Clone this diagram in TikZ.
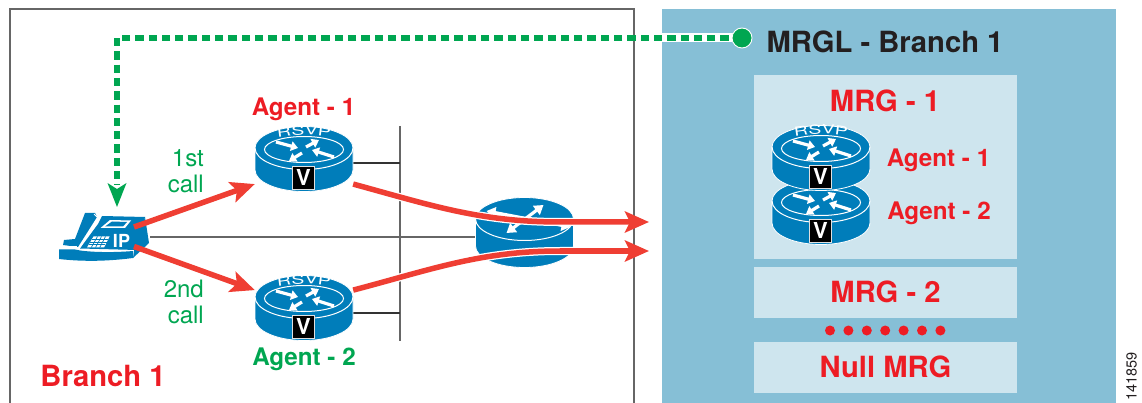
\documentclass[tikz,border=0pt]{standalone}
\usepackage{fontspec}
\setmainfont{TeX Gyre Heros}
\newfontfamily\rsvpfont[FakeStretch=1.55]{TeX Gyre Heros}
\usetikzlibrary{arrows.meta,calc,decorations.text}
\definecolor{ciscoblue}{HTML}{007DBA}
\definecolor{redline}{HTML}{EF3E33}
\definecolor{redtext}{HTML}{ED1C24}
\definecolor{greenc}{HTML}{00A651}
\definecolor{panelc}{HTML}{86BFD6}
\definecolor{innerc}{HTML}{CEE5EE}
\definecolor{framec}{HTML}{666666}
\definecolor{darktext}{HTML}{231F20}
\tikzset{
  lbl/.style={inner sep=0pt,font=\fontsize{24.2}{26}\selectfont\bfseries,text=redtext},
  biglbl/.style={inner sep=0pt,font=\fontsize{29.2}{32}\selectfont\bfseries,text=redtext},
  calllbl/.style={inner sep=0pt,align=right,anchor=east,font=\fontsize{24}{26}\selectfont,text=greenc},
  iconbox/.style={inner sep=0pt,minimum width=98pt,minimum height=66pt},
  wire/.style={draw=framec,line width=1.1pt},
  redarrow/.style={draw=redline,line width=5.5pt,-{Stealth[length=24pt,width=21pt,inset=5pt]}},
  casing/.style={draw=white,line width=8pt},
  whitearrow/.style={draw=white,line width=3.2pt,-{Triangle[length=7pt,width=9.5pt]}},
  whitedouble/.style={draw=white,line width=3.2pt,{Triangle[length=9pt,width=11pt]}-{Triangle[length=9pt,width=11pt]}},
  greendash/.style={draw=greenc,line width=5.5pt,dash pattern=on 8.3pt off 5pt},
  mrgbox/.style={fill=innerc,inner sep=0pt},
}
% body of a cylinder icon, centre of the top ellipse at (#1,#2)
\newcommand{\cylbody}[3]{%
  \begin{scope}[shift={(#1,#2)}]
    \path[fill=ciscoblue,draw=white,line width=0.8pt]
      (-49,0) -- (-49,#3) arc[start angle=180,end angle=360,x radius=49pt,y radius=21.5pt]
      -- (49,0) arc[start angle=0,end angle=180,x radius=49pt,y radius=21.5pt] -- cycle;
    \draw[white,line width=1pt] (-49,0) arc[start angle=180,end angle=360,x radius=49pt,y radius=21.5pt];
  \end{scope}}
% voice router icon, without its lettering
\newcommand{\rsvprouter}[2]{%
  \cylbody{#1}{#2}{22}
  \begin{scope}[shift={(#1,#2)}]
    \draw[white,line width=1pt] (0,1.5) ellipse[x radius=39.5pt,y radius=13pt];
    \draw[whitearrow] (-28,-6) -- (-6,0);
    \draw[whitearrow] (2,-1) -- (15,-8);
    \draw[whitearrow] (30,9) -- (8,2);
    \draw[whitearrow] (-2,5) -- (-15,13);
    \node[draw=white!75!gray,line width=0.8pt,fill=black,text=white,inner sep=0pt,
      minimum width=22pt,minimum height=23pt,
      font=\fontsize{22}{22}\selectfont\bfseries] at (-0.5,29.5) {V};
  \end{scope}}
% the RSVP lettering on the top of an icon
\newcommand{\rsvpword}[2]{%
  \begin{scope}[shift={(#1,#2)}]
    \path[decorate,decoration={text along path,text align=center,
      text={|\rsvpfont\fontsize{12.5}{13}\selectfont\color{white}|RSVP}}]
      (-34,-9) .. controls (-14,-14.5) and (14,-14.5) .. (34,-9);
  \end{scope}}
\begin{document}
\begin{tikzpicture}[x=1pt,y=-1pt]
\useasboundingbox (0,0) rectangle (1142,403);
% frame and panel
\draw[framec,line width=1.2pt] (10,403) -- (10,9) -- (634,9) -- (634,403);
\fill[panelc] (662,9) rectangle (1116,403);
\node[mrgbox,minimum width=263pt,minimum height=184pt] (mrgone) at (885.5,167) {};
\node[mrgbox,minimum width=263pt,minimum height=51pt] (mrgtwo) at (885.5,292.5) {};
\node[mrgbox,minimum width=263pt,minimum height=51pt] (mrgnull) at (885.5,367.5) {};
\node[biglbl] (tone) at (885,101) {MRG - 1};
\node[biglbl] (ttwo) at (885.5,292) {MRG - 2};
\node[biglbl] (tnull) at (885.5,367) {Null MRG};
\node[inner sep=0pt,font=\fontsize{29.2}{32}\selectfont\bfseries,text=darktext] (title) at (885,42) {MRGL - Branch 1};
\foreach \i in {0,...,6} \fill[redtext] ({830+18.4*\i},330.5) circle[radius=5pt];
% named icon places
\node[iconbox] (rone) at (304,159) {};
\node[iconbox] (rtwo) at (304,308) {};
\node[inner sep=0pt,minimum width=98pt,minimum height=65pt] (rmid) at (524.5,232.5) {};
\node[inner sep=0pt,minimum width=91pt,minimum height=50pt] (phone) at (104.5,237) {};
\coordinate (busa) at (400,126);
\coordinate (busb) at (400,341);
\coordinate (phonea) at (134,227);
\coordinate (phoneb) at (134,246.5);
\coordinate (outa) at (649,222);
\coordinate (outb) at (649,251);
\node[inner sep=0pt,minimum size=0pt] (dot) at (742,38) {};
\coordinate (elbow) at (117,38);
\coordinate (greentip) at (117,207);
% wires
\draw[wire] (phone.east) -- (phone.east -| rmid.west);
\draw[wire] (busa) -- (busb);
\draw[wire,draw=black!80] (rone.east |- 0,163) -- (400,163);
\draw[wire,draw=black!80] (rtwo.east |- 0,313) -- (400,313);
% routers
\rsvprouter{304}{148}
\rsvpword{304}{148}
\rsvprouter{304}{297}
\rsvpword{304}{297}
% plain router
\cylbody{524.5}{219}{27}
\begin{scope}[shift={(524.5,219)}]
  \draw[whitedouble] (-18,14) -- (19,-14);
  \draw[whitedouble] (-38,-8) -- (46,8);
\end{scope}
% stacked routers
\rsvprouter{821}{201}
\rsvprouter{821}{147}
\rsvpword{821}{147}
% phone
\begin{scope}
  \fill[ciscoblue] (59,249.5) -- (59,259) .. controls (85,262) and (110,261) .. (133,258) -- (133,251) .. controls (110,253) and (85,252) .. (75,249.5) -- cycle;
  \fill[ciscoblue] (63,245) -- (64,240) -- (75,239) -- (85,213) -- (95,213) -- (97,217) -- (78,247) -- cycle;
  \fill[ciscoblue] (102,216) -- (145,217) -- (137,250) -- (80,248.5) -- (98,224) -- cycle;
  \fill[ciscoblue] (145,217) -- (149,243) -- (133,258) -- (134,251) -- cycle;
  \draw[white,line width=0.8pt] (79,249) -- (98,218) -- (94,214);
  \draw[white,line width=0.8pt] (64,246) -- (77,246);
  \fill[white] (110,220) -- (131,220.5) -- (125,228) -- (100.5,228) -- cycle;
  \fill[ciscoblue] (112,221.5) -- (127,222) -- (123,226.5) -- (105,226.5) -- cycle;
  \fill[white] (93.5,236.5) -- (109.5,236.5) -- (104,247.5) -- (87,247.5) -- cycle;
  \foreach \t in {0.25,0.5,0.75} {
    \draw[ciscoblue,line width=0.7pt] ($(93.5,236.5)!\t!(109.5,236.5)$) -- ($(87,247.5)!\t!(104,247.5)$);
    \draw[ciscoblue,line width=0.7pt] ($(93.5,236.5)!\t!(87,247.5)$) -- ($(109.5,236.5)!\t!(104,247.5)$);
  }
  \node[inner sep=0pt,text=white,font=\fontsize{18}{18}\selectfont\bfseries] (iptext) at (121.5,241) {IP};
\end{scope}
% green association line
\draw[white,line width=9pt] (662,38) -- (dot.center);
\draw[greendash] (dot.center) -- (elbow) -- ($(greentip)+(0,-22)$);
\draw[draw=none,fill=greenc] (greentip) -- ($(greentip)+(-9.5,-24)$) -- ($(greentip)+(0,-18)$) -- ($(greentip)+(9.5,-24)$) -- cycle;
\fill[greenc,draw=white,line width=0.9pt] (dot) circle[radius=10pt];
% red flows
\draw[casing] (rone.333) .. controls (430,205) and (480,222) .. (560,222) -- (626,222);
\draw[casing] (rtwo.20) .. controls (430,270) and (480,251) .. (560,251) -- (626,251);
\draw[redarrow] (rone.333) .. controls (430,205) and (480,222) .. (560,222) -- (outa);
\draw[redarrow] (rtwo.20) .. controls (430,270) and (480,251) .. (560,251) -- (outb);
\draw[redarrow] (phonea) -- (rone.207);
\draw[redarrow] (phoneb) -- (rtwo.160);
% labels
\node[lbl] (aone) at (303.5,109) {Agent - 1};
\node[lbl,text=greenc] (atwo) at (304,359) {Agent - 2};
\node[lbl] (sone) at (938.5,160) {Agent - 1};
\node[lbl] (stwo) at (939,213) {Agent - 2};
\node[calllbl] (first) at (204,171) {1st\\call};
\node[calllbl] (second) at (204,302) {2nd\\call};
\node[biglbl] (branch) at (103,375.5) {Branch 1};
\node[inner sep=0pt,rotate=90,font=\fontsize{14.5}{15}\selectfont,text=darktext] (num) at (1131.5,376.5) {141859};
\end{tikzpicture}
\end{document}
